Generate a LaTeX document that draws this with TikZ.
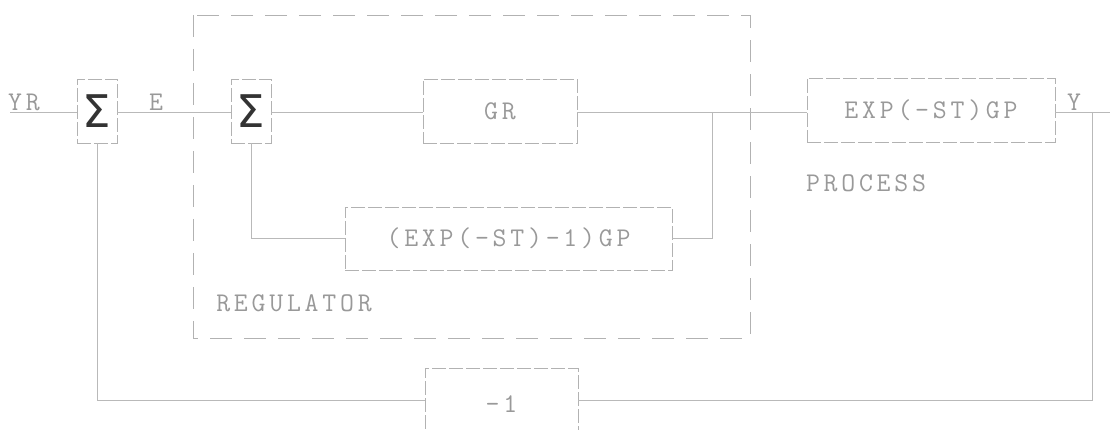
\documentclass[tikz,border=0pt]{standalone}
\usepackage{fontspec}
\newfontfamily\plotfont[LetterSpace=14]{Latin Modern Mono}
\newfontfamily\sigfont{DejaVu Sans}
\usetikzlibrary{positioning}
\newcommand{\plot}{\plotfont\fontsize{27}{27}\selectfont}

\begin{document}
\begin{tikzpicture}[x=1pt,y=-1pt,
  wire/.style={gray!55,line width=0.9pt},
  blk/.style={draw=gray!60,dash pattern=on 14pt off 3pt,line width=0.8pt,inner sep=0pt,
    text=gray!80,font=\plot},
  sumblk/.style={blk,minimum width=40pt,minimum height=64pt,text=black!80,
    font=\sigfont\fontsize{45}{45}\selectfont},
  lbl/.style={text=gray!80,font=\plot,inner sep=0pt}]
  \useasboundingbox (0,0) rectangle (1114,430);
  \draw[gray!60,line width=0.8pt,dash pattern=on 22pt off 12pt] (193,15) rectangle (750,338);
  \node[sumblk] (sumA) at (97,111) {Σ};
  \node[sumblk] (sumB) at (251,111) {Σ};
  \node[blk,minimum width=154pt,minimum height=64pt] (gr) at (500,111) {GR};
  \node[blk,minimum width=248pt,minimum height=64pt] (proc) at (931,110) {EXP(-ST)GP};
  \node[blk,minimum width=327pt,minimum height=63pt] (fbk) at (508.5,238.5) {(EXP(-ST)-1)GP};
  \node[blk,minimum width=153pt,minimum height=72pt] (neg) at (501.5,404) {-1};
  \coordinate (in) at (10,112);
  \coordinate (out) at (1110,112);
  \coordinate (tapA) at (712,112);
  \coordinate (tapB) at (1092,112);
  \draw[wire] (in) -- (sumA.west |- in);
  \draw[wire] (sumA.east |- in) -- (sumB.west |- in);
  \draw[wire] (sumB.east |- in) -- (gr.west |- in);
  \draw[wire] (gr.east |- in) -- (proc.west |- in);
  \draw[wire] (proc.east |- in) -- (out);
  \draw[wire] (tapA) |- (fbk.east);
  \draw[wire] (fbk.west) -| (sumB.south);
  \draw[wire] (tapB) |- (neg.east |- 0,400);
  \draw[wire] (neg.west |- 0,400) -| (sumA.south);
  \node[lbl] (yr) at (24,102) {YR};
  \node[lbl] (e) at (156,102) {E};
  \node[lbl] (y) at (1074,102) {Y};
  \node[lbl] (reg) at (294,303) {REGULATOR};
  \node[lbl] (procname) at (866,183) {PROCESS};
\end{tikzpicture}
\end{document}
